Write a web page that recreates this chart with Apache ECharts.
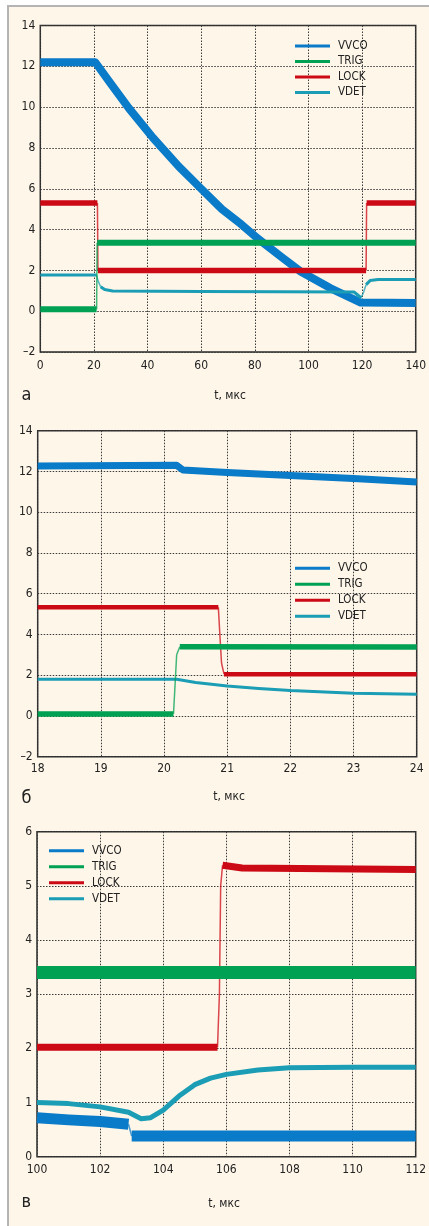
<!DOCTYPE html>
<html><head><meta charset="utf-8">
<script src="https://cdn.jsdelivr.net/npm/echarts@6/dist/echarts.min.js"></script>
<style>
html,body{margin:0;padding:0;background:#fff;overflow:hidden;}
#frame{position:absolute;left:7px;top:5px;right:0;bottom:0;background:#FEF6E9;border-left:2.5px solid #b4b4b4;border-top:2.5px solid #b4b4b4;}
#chart{position:absolute;left:0;top:0;width:429px;height:1226px;}
</style></head><body><div id="frame"></div><div id="chart"></div>
<script>
// ---------- DATA ----------
const seriesNames = ['VVCO', 'TRIG', 'LOCK', 'VDET'];
const drawOrder = ['VVCO', 'VDET', 'LOCK', 'TRIG'];

// panel а : t 0..140 µs
const xTicksA = [0, 20, 40, 60, 80, 100, 120, 140];
const yTicksA = [-2, 0, 2, 4, 6, 8, 10, 12, 14];
const aVVCO = [[0,12.2],[20.5,12.2],[26,11.2],[33,9.95],[42,8.5],[51.6,7.1],[60,6.0],[67.7,5.0],[75,4.25],[81.2,3.55],[90,2.65],[97.2,1.93],[108.3,1.12],[115,0.7],[119.5,0.42],[140,0.4]];
const aTRIG = [[0,0.1],[21,0.1],[21.2,3.35],[140,3.35]];
const aLOCK = [[0,5.3],[21.3,5.3],[21.5,2.0],[121.5,2.0],[121.7,5.3],[140,5.3]];
const aVDET = [[0,1.77],[21,1.77],[21.5,1.5],[22.5,1.2],[24,1.06],[27,0.99],[60,0.96],[117,0.94],[119.6,0.66],[120.5,0.9],[121.5,1.3],[123,1.5],[126,1.55],[140,1.55]];

// panel б : t 18..24 µs
const xTicksB = [18, 19, 20, 21, 22, 23, 24];
const yTicksB = [-2, 0, 2, 4, 6, 8, 10, 12, 14];
const bVVCO = [[18,12.27],[20.2,12.3],[20.3,12.07],[21,11.95],[22,11.8],[23,11.65],[24,11.48]];
const bTRIG = [[18,0.1],[20.15,0.1],[20.2,3.0],[20.25,3.4],[24,3.38]];
const bLOCK = [[18,5.33],[20.86,5.33],[20.88,4.2],[20.91,2.6],[20.95,2.05],[24,2.05]];
const bVDET = [[18,1.8],[20.2,1.8],[20.5,1.64],[21,1.47],[21.5,1.35],[22,1.25],[23,1.12],[24,1.06]];

// panel в : t 100..112 µs
const xTicksC = [100, 102, 104, 106, 108, 110, 112];
const yTicksC = [0, 1, 2, 3, 4, 5, 6];
const cVVCO = [[100,0.72],[101,0.68],[102,0.65],[102.9,0.6],[103,0.38],[112,0.38]];
const cTRIG = [[100,3.4],[112,3.4]];
const cLOCK = [[100,2.02],[105.72,2.02],[105.78,3.0],[105.82,5.0],[105.88,5.38],[106.5,5.33],[112,5.3]];
const cVDET = [[100,1.0],[101,0.98],[102,0.92],[102.9,0.82],[103.3,0.7],[103.6,0.72],[104,0.86],[104.5,1.12],[105,1.33],[105.5,1.45],[106,1.52],[107,1.6],[108,1.64],[110,1.65],[112,1.65]];

// ---------- STYLE / LAYOUT ----------
const colors = {VVCO:'#0a7bc8', TRIG:'#00a152', LOCK:'#cc0a16', VDET:'#1a9db5'};
const FONT = "'DejaVu Sans Condensed','Liberation Sans Narrow','Liberation Sans',sans-serif";

const panels = [
  {grid:{left:40.3, top:25.5, width:378.7, height:326.5}, xt:xTicksA, yt:yTicksA,
   data:{VVCO:aVVCO, TRIG:aTRIG, LOCK:aLOCK, VDET:aVDET},
   widths:{VVCO:8, TRIG:6, LOCK:5.5, VDET:3},
   legend:{left:295, top:39.5, gap:2.5}, letter:'а', letterPos:[21.5,397], xname:[230,396], labMargin:8},
  {grid:{left:37.7, top:430.7, width:379, height:326}, xt:xTicksB, yt:yTicksB,
   data:{VVCO:bVVCO, TRIG:bTRIG, LOCK:bLOCK, VDET:bVDET},
   widths:{VVCO:7, TRIG:5.5, LOCK:4.5, VDET:3},
   legend:{left:295, top:561.8, gap:3}, letter:'б', letterPos:[21.5,800], xname:[229,797], labMargin:6},
  {grid:{left:37, top:831.7, width:379.7, height:325}, xt:xTicksC, yt:yTicksC,
   data:{VVCO:cVVCO, TRIG:cTRIG, LOCK:cLOCK, VDET:cVDET},
   widths:{VVCO:11, TRIG:13, LOCK:7, VDET:5},
   legend:{left:49, top:844.2, gap:3}, letter:'в', letterPos:[21.5,1204], xname:[224,1204], labMargin:7}
];

function splitSteep(pts, pxX, pxY) {
  const thick = [], thin = [];
  for (let i = 0; i < pts.length; i++) {
    thick.push(pts[i]);
    if (i < pts.length - 1) {
      const dx = Math.abs(pts[i+1][0] - pts[i][0]) * pxX;
      const dy = Math.abs(pts[i+1][1] - pts[i][1]) * pxY;
      if (dy > 2 * dx) {
        const mid = (pts[i][0] + pts[i+1][0]) / 2;
        thick.push([mid, null]);
        thin.push(pts[i], pts[i+1], [mid, null]);
      }
    }
  }
  return {thick, thin};
}

const grids = [], xAxes = [], yAxes = [], series = [], legends = [], graphics = [];
panels.forEach((p, k) => {
  grids.push(Object.assign({show:true, borderColor:'#2a2a2a', borderWidth:1.5, backgroundColor:'transparent'}, p.grid));
  const xmin = p.xt[0], xmax = p.xt[p.xt.length-1];
  const ymin = p.yt[0], ymax = p.yt[p.yt.length-1];
  const split = {show:true, lineStyle:{color:'#3a3a3a', type:[1.5,1.5], width:1}};
  xAxes.push({type:'value', gridIndex:k, min:xmin, max:xmax, interval:p.xt[1]-p.xt[0],
    axisLine:{show:false}, axisTick:{show:false}, splitLine:split,
    axisLabel:{color:'#222', fontFamily:FONT, fontSize:12, margin:p.labMargin}});
  yAxes.push({type:'value', gridIndex:k, min:ymin, max:ymax, interval:p.yt[1]-p.yt[0],
    axisLine:{show:false}, axisTick:{show:false}, splitLine:split,
    axisLabel:{color:'#222', fontFamily:FONT, fontSize:12, margin:5,
      formatter: v => v < 0 ? '\u2013' + (-v) : String(v)}});
  const pxX = p.grid.width / (xmax - xmin), pxY = p.grid.height / (ymax - ymin);
  drawOrder.forEach(name => {
    const s = splitSteep(p.data[name], pxX, pxY);
    series.push({type:'line', name, xAxisIndex:k, yAxisIndex:k, data:s.thick, showSymbol:false, symbol:'none',
      connectNulls:false, animation:false, color:colors[name],
      lineStyle:{color:colors[name], width:p.widths[name], join:'round', cap:'butt'}, z:2});
    if (s.thin.length) {
      series.push({type:'line', name, xAxisIndex:k, yAxisIndex:k, data:s.thin, showSymbol:false, symbol:'none',
        connectNulls:false, animation:false, color:colors[name],
        lineStyle:{color:colors[name], width:1.5, opacity:0.75}, z:2});
    }
  });
  legends.push({left:p.legend.left, top:p.legend.top, orient:'vertical', padding:0, itemGap:p.legend.gap,
    icon:'rect', itemWidth:35, itemHeight:3, data:seriesNames, selectedMode:false,
    textStyle:{fontFamily:FONT, fontSize:11.5, color:'#222', lineHeight:13, padding:[0,0,0,3]}});
  graphics.push({type:'text', left:p.letterPos[0], top:p.letterPos[1]-11,
    style:{text:p.letter, font:"18px " + FONT, fill:'#222'}});
  graphics.push({type:'text', x:p.xname[0], y:p.xname[1],
    style:{text:'t, мкс', font:"12px " + FONT, fill:'#222', align:'center', verticalAlign:'middle'}});
});

const chart = echarts.init(document.getElementById('chart'), null, {renderer:'canvas'});
chart.setOption({
  backgroundColor:'transparent', animation:false,
  grid:grids, xAxis:xAxes, yAxis:yAxes, series, legend:legends, graphic:graphics
});
</script></body></html>
